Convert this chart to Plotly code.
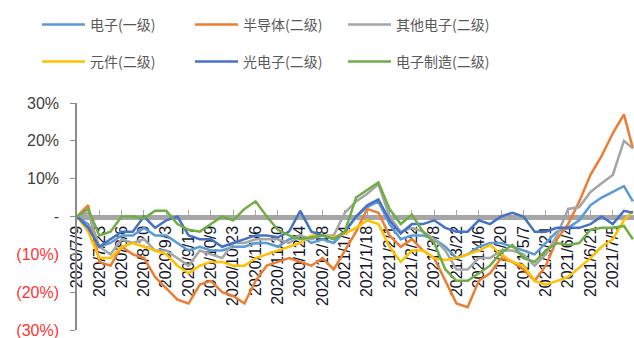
import plotly.graph_objects as go

# ---- data -------------------------------------------------------------
tick_labels = ["2020/7/9", "2020/7/23", "2020/8/6", "2020/8/20", "2020/9/3",
               "2020/9/17", "2020/10/9", "2020/10/23", "2020/11/6", "2020/11/20",
               "2020/12/4", "2020/12/18", "2021/1/4", "2021/1/18", "2021/2/1",
               "2021/2/22", "2021/3/8", "2021/3/22", "2021/4/6", "2021/4/20",
               "2021/5/7", "2021/5/21", "2021/6/4", "2021/6/21", "2021/7/5"]
tick_pos = list(range(0, 250, 10))            # trading-day index of each tick label
day_idx = list(range(0, 250, 5)) + [249]      # trading-day index of each sample

elec = [0, -2, -8, -7, -5, -5, -3, -5, -5, -7, -9, -8, -9, -9, -8, -8, -7, -7, -8, -6,
        -5, -7, -6, -7, -4, 0, 2.5, 4, -2, -6, -5, -5, -6, -8, -11, -10, -8, -7, -7, -8,
        -9, -10, -7, -4, -3, -1, 3, 5, 6.5, 8, 4]
semi = [0, 3, -12, -13, -8, -10, -11, -16, -19, -22, -23, -18, -17, -20, -21, -23, -17, -13, -12, -11,
        -12, -13, -11, -14, -9, -4, 2, 1, -5, -8, -6, -9, -11, -17, -23, -24, -17, -15, -11, -12,
        -14, -17, -13, -6, -2, 4, 11, 16, 22, 27, 18]
other = [0, 1, -8, -10, -6, -7, -6, -9, -9, -11, -13, -9, -10, -11, -7, -7, -6, -6, -6, -7,
         -5, -6, -5, -5, 1, 4, 6, 8.5, 0, -4, -3, -4, -6, -9, -14, -14, -11, -11, -9, -9,
         -10, -13, -10, -5, 2, 2.5, 6.5, 8.8, 11, 20, 18]
comp = [0, -4, -11, -11, -8, -7, -8, -9, -10, -13, -15, -13, -12, -12, -13, -13, -11, -10, -9, -8,
        -7, -5, -5, -5.5, -4.5, -3, -1, -2, -8, -12, -9, -9, -11, -11.5, -11, -10, -9, -7.5, -10, -12,
        -13, -17, -18, -17, -16, -13.5, -11, -8, -6, -1, 1.5]
opto = [0, -3, -8, -6, -4, -4, 0, -3, -1, 0, -5, -6, -6, -8, -7, -6, -5, -5, -5.5, -4,
        1.5, -4, -5, -6, -4, 0, 3, 4.5, -1, -4.5, -2, -2, -1, -3, -4, -4, -1, -2, 0, 1,
        0, -4, -4, -3, -3, -3, -2, 0, -2, 1.5, 1]
mfg = [0, 2, -5, -4, 0, 0, -0.5, 1.5, 1.5, -2, -3.5, -4, -2, 0, -1, 2, 4, 0, -3.5, -5,
       -6, -5.5, -5, -6, -4, 5, 7, 9, 2, -2, 0.5, -4, -7, -14, -17, -17, -15, -13, -9.5, -7.5,
       -11, -12, -9, -7, -7.5, -7, -3.5, -3, -3, -2.5, -6]

series = [
    ("电子(一级)", elec, "#5B9BD5", "legend"),
    ("半导体(二级)", semi, "#ED7D31", "legend"),
    ("其他电子(二级)", other, "#A5A5A5", "legend"),
    ("元件(二级)", comp, "#FFC000", "legend2"),
    ("光电子(二级)", opto, "#4472C4", "legend2"),
    ("电子制造(二级)", mfg, "#70AD47", "legend2"),
]

y_vals = [-30, -20, -10, 0, 10, 20, 30]
y_text = ['<span style="color:#FF3333">(30%)</span>',
          '<span style="color:#FF3333">(20%)</span>',
          '<span style="color:#FF3333">(10%)</span>',
          '-', '10%', '20%', '30%']

# ---- figure -----------------------------------------------------------
fig = go.Figure()
for name, vals, color, lg in series:
    fig.add_trace(go.Scatter(x=day_idx, y=vals, name=name, mode="lines",
                             line=dict(color=color, width=2.5), legend=lg))

legend_common = dict(orientation="h", xref="container", yref="container",
                     xanchor="left", yanchor="middle", entrywidth=95,
                     entrywidthmode="pixels", bgcolor="rgba(0,0,0,0)",
                     font=dict(family="Noto Sans CJK SC", size=14, color="#595959"),
                     itemwidth=43)

fig.update_layout(
    width=634, height=338, autosize=False,
    margin=dict(l=77, r=0, t=103, b=8, pad=0),
    plot_bgcolor="white", paper_bgcolor="white",
    font=dict(family="Liberation Sans, Arial, sans-serif", color="#404040"),
    legend=dict(x=37 / 634, y=1 - 25 / 338, **legend_common),
    legend2=dict(x=37 / 634, y=1 - 62 / 338, **legend_common),
    xaxis=dict(range=[0, 249.5], tickmode="array", tickvals=tick_pos, ticktext=tick_labels,
               tickangle=-90, anchor="free", position=0.5, showgrid=False, zeroline=False,
               showline=True, linecolor="#A6A6A6", linewidth=5,
               ticks="inside", ticklen=5, tickcolor="#A6A6A6",
               tickfont=dict(size=16, color="#141428", family="Liberation Sans, Arial"),
               layer="below traces"),
    yaxis=dict(range=[-30, 30], tickmode="array", tickvals=y_vals, ticktext=y_text,
               showgrid=False, zeroline=False, showline=True, linecolor="#8C8C8C",
               linewidth=1.5, ticks="outside", ticklen=5, tickcolor="#8C8C8C",
               tickfont=dict(size=16, color="#404040", family="Liberation Sans, Arial"),
               ticklabelstandoff=8, ticklabeloverflow="allow"),
)

fig.write_html("out.html")
